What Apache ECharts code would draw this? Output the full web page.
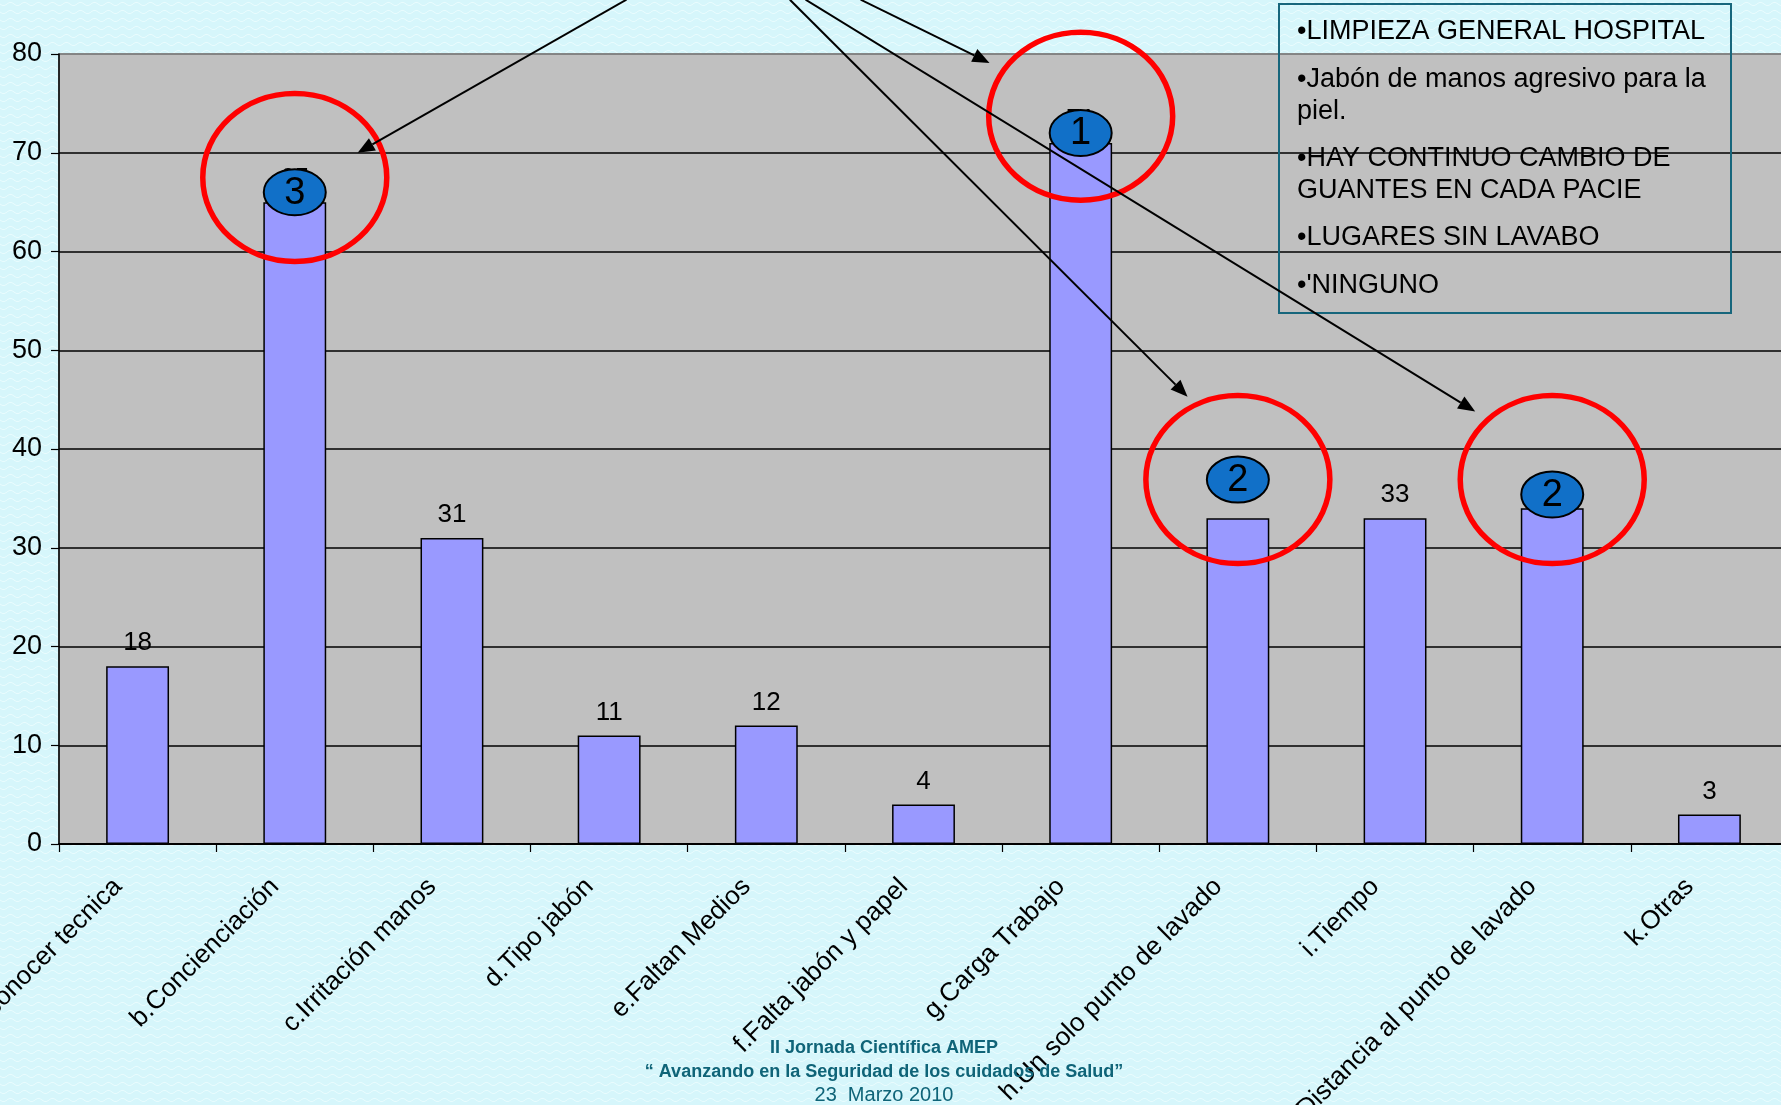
<!DOCTYPE html>
<html>
<head>
<meta charset="utf-8">
<script src="https://cdn.jsdelivr.net/npm/echarts@6/dist/echarts.min.js"></script>
<style>
  html, body { margin: 0; padding: 0; background: #d6f6fb; }
  #chart { width: 1781px; height: 1105px; }
</style>
</head>
<body>
<div id="chart"></div>
<script>
// Survey: reasons given for not washing hands (number of answers)
const categories = [
  'a.Desconocer tecnica', 'b.Concienciación', 'c.Irritación manos', 'd.Tipo jabón',
  'e.Faltan Medios', 'f.Falta jabón y papel', 'g.Carga Trabajo',
  'h.Un solo punto de lavado', 'i.Tiempo', 'j.Distancia al punto de lavado', 'k.Otras'
];
const counts = [18, 65, 31, 11, 12, 4, 71, 33, 33, 34, 3];
const yMin = 0, yMax = 80, yStep = 10;

// Ranking badges placed over the most cited reasons (category index, value)
const rankIndex = [1, 6, 7, 9];
const rankText = ['3', '1', '2', '2'];
const ringValue = [67.5, 73.7, 36.9, 36.9];
const badgeValue = [66, 72, 36.9, 35.4];

// Callout arrows (fractional category index, value)
const arrowFrom = [[3.11, 85.5], [4.60, 85.5], [4.15, 85.5], [4.25, 85.5]];
const arrowTo = [[1.40, 70.0], [5.42, 79.1], [6.68, 45.3], [8.51, 43.8]];

// "Otros" answers listed in the box
const otherLines = [
  '•LIMPIEZA GENERAL HOSPITAL',
  '•Jabón de manos agresivo para la',
  'piel.',
  '•HAY CONTINUO CAMBIO DE',
  'GUANTES EN CADA PACIE',
  '•LUGARES SIN LAVABO',
  "•'NINGUNO"
];
const otherLineY = [32, 80, 112, 159, 191, 238, 286];

const footerLines = [
  'II Jornada Científica AMEP',
  '“ Avanzando en la Seguridad de los cuidados de Salud”',
  '23  Marzo 2010'
];

// wavy slide texture
(function () {
  const c = document.createElement('canvas');
  c.width = 14; c.height = 8;
  const g = c.getContext('2d');
  g.fillStyle = '#d6f6fb';
  g.fillRect(0, 0, 14, 8);
  g.strokeStyle = '#e9fcfe';
  g.lineWidth = 1;
  g.beginPath();
  for (let x = 0; x <= 14; x++) {
    const y = 4 + 1.6 * Math.sin(x / 14 * 2 * Math.PI);
    if (x === 0) g.moveTo(x, y); else g.lineTo(x, y);
  }
  g.stroke();
  document.getElementById('chart').style.background = 'url(' + c.toDataURL() + ')';
})();

const FONT = '"Liberation Sans", Arial, sans-serif';
const chart = echarts.init(document.getElementById('chart'), null, { renderer: 'canvas' });

const splitColors = [];
for (let v = yMin; v <= yMax; v += yStep) splitColors.push(v === yMax ? '#7f7f7f' : '#000000');

chart.setOption({
  backgroundColor: 'transparent',
  animation: false,
  grid: {
    left: 59, top: 54, width: 1729, height: 790,
    containLabel: false, outerBoundsMode: 'none',
    show: true, backgroundColor: '#c0c0c0', borderColor: '#7f7f7f', borderWidth: 1.5
  },
  xAxis: {
    type: 'category',
    data: categories,
    axisLine: { lineStyle: { color: '#000', width: 2 } },
    axisTick: { show: true, inside: false, length: 8, lineStyle: { color: '#000', width: 1.2 } },
    axisLabel: {
      interval: 0, rotate: 45, margin: 19, padding: [0, 28, 0, 0],
      hideOverlap: false,
      fontFamily: FONT, fontSize: 26, color: '#000'
    }
  },
  yAxis: {
    type: 'value',
    min: yMin, max: yMax, interval: yStep,
    axisLine: { show: true, lineStyle: { color: '#000', width: 1.5 } },
    axisTick: { show: true, length: 8, lineStyle: { color: '#000', width: 1.2 } },
    axisLabel: { margin: 17, fontFamily: FONT, fontSize: 27, color: '#000' },
    splitLine: { show: true, lineStyle: { color: splitColors, width: 1.5 } }
  },
  series: [{
    type: 'bar',
    data: counts,
    barCategoryGap: '60%',
    itemStyle: { color: '#9999ff', borderColor: '#000', borderWidth: 1.5 },
    label: {
      show: true, position: 'top', distance: 10,
      fontFamily: FONT, fontSize: 26, color: '#000'
    }
  }]
});

// data space -> pixels, with fractional category positions
function toPx(idx, val) {
  const a = chart.convertToPixel({ xAxisIndex: 0, yAxisIndex: 0 }, [0, val]);
  const b = chart.convertToPixel({ xAxisIndex: 0, yAxisIndex: 0 }, [1, val]);
  return [a[0] + idx * (b[0] - a[0]), a[1]];
}

const graphics = [];

// box with the "other" answers
graphics.push({
  type: 'rect', z: 20,
  shape: { x: 1279, y: 4, width: 452, height: 309 },
  style: { fill: 'none', stroke: '#17667c', lineWidth: 2 }
});
otherLines.forEach((t, i) => {
  graphics.push({
    type: 'text', z: 21,
    style: {
      text: t, x: 1297, y: otherLineY[i], align: 'left', verticalAlign: 'middle',
      font: '27px ' + FONT, fill: '#000'
    }
  });
});

// red rings and blue rank badges
rankIndex.forEach((ci, i) => {
  const r = toPx(ci, ringValue[i]);
  graphics.push({
    type: 'ellipse', z: 30,
    shape: { cx: r[0], cy: r[1], rx: 92, ry: 84 },
    style: { fill: 'none', stroke: '#ff0000', lineWidth: 5.5 }
  });
  const b = toPx(ci, badgeValue[i]);
  graphics.push({
    type: 'ellipse', z: 31,
    shape: { cx: b[0], cy: b[1], rx: 31, ry: 23 },
    style: { fill: '#1170c8', stroke: '#000', lineWidth: 2 }
  });
  graphics.push({
    type: 'text', z: 32,
    style: {
      text: rankText[i], x: b[0], y: b[1] + 1, align: 'center', verticalAlign: 'middle',
      font: '38px ' + FONT, fill: '#000'
    }
  });
});

// arrows
arrowFrom.forEach((f, i) => {
  const p0 = toPx(f[0], f[1]);
  const p1 = toPx(arrowTo[i][0], arrowTo[i][1]);
  const dx = p1[0] - p0[0], dy = p1[1] - p0[1];
  const len = Math.hypot(dx, dy);
  const ux = dx / len, uy = dy / len;
  const L = 17, W = 14;
  const bx = p1[0] - ux * L, by = p1[1] - uy * L;
  graphics.push({
    type: 'line', z: 40,
    shape: { x1: p0[0], y1: p0[1], x2: bx, y2: by },
    style: { stroke: '#000', lineWidth: 2 }
  });
  graphics.push({
    type: 'polygon', z: 40,
    shape: { points: [
      [p1[0], p1[1]],
      [bx - uy * W / 2, by + ux * W / 2],
      [bx + uy * W / 2, by - ux * W / 2]
    ] },
    style: { fill: '#000' }
  });
});

// footer
const footerY = [1048, 1072, 1095];
const footerFont = ['bold 18px ' + FONT, 'bold 18px ' + FONT, '20px ' + FONT];
footerLines.forEach((t, i) => {
  graphics.push({
    type: 'text', z: 1,
    style: {
      text: t, x: 884, y: footerY[i], align: 'center', verticalAlign: 'middle',
      font: footerFont[i], fill: '#0f6478'
    }
  });
});

chart.setOption({ graphic: { elements: graphics } });
</script>
</body>
</html>
